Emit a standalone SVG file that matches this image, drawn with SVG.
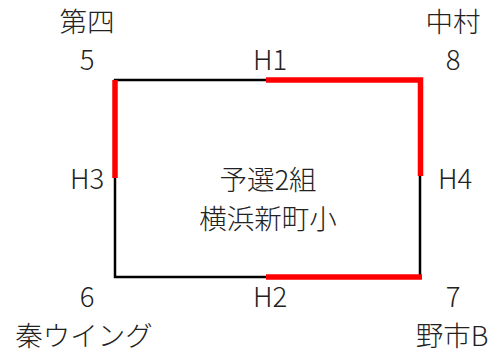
<svg xmlns="http://www.w3.org/2000/svg" width="495" height="353" viewBox="0 0 495 353">
<style>
text{font-family:"Noto Sans CJK JP","Noto Sans",sans-serif;font-size:27.5px;font-weight:300;fill:#222;text-anchor:middle}
.b{stroke:#000;stroke-width:2.5;fill:none}
.r{stroke:#ff0000;stroke-width:5.5;fill:none}
</style>
<rect width="495" height="353" fill="#fff"/>
<g id="connectors">
<path class="b" d="M115 80H420V277H115Z"/>
<path class="r" d="M266 80H420.5V176"/>
<path class="r" d="M115 80V178"/>
<path class="r" d="M266 277H422"/>
</g>
<g id="n5"><text x="87" y="32">第四</text><text x="87" y="70">5</text></g>
<g id="n8"><text x="453" y="32">中村</text><text x="453" y="70">8</text></g>
<g id="n6"><text x="87" y="307">6</text><text x="84" y="346">秦ウイング</text></g>
<g id="n7"><text x="453" y="307">7</text><text x="452" y="346">野市B</text></g>
<g id="h1"><text x="270" y="70">H1</text></g>
<g id="h2"><text x="270" y="307">H2</text></g>
<g id="h3"><text x="87" y="189">H3</text></g>
<g id="h4"><text x="455" y="189">H4</text></g>
<g id="center"><text x="268" y="190">予選2組</text><text x="268" y="229">横浜新町小</text></g>
</svg>
